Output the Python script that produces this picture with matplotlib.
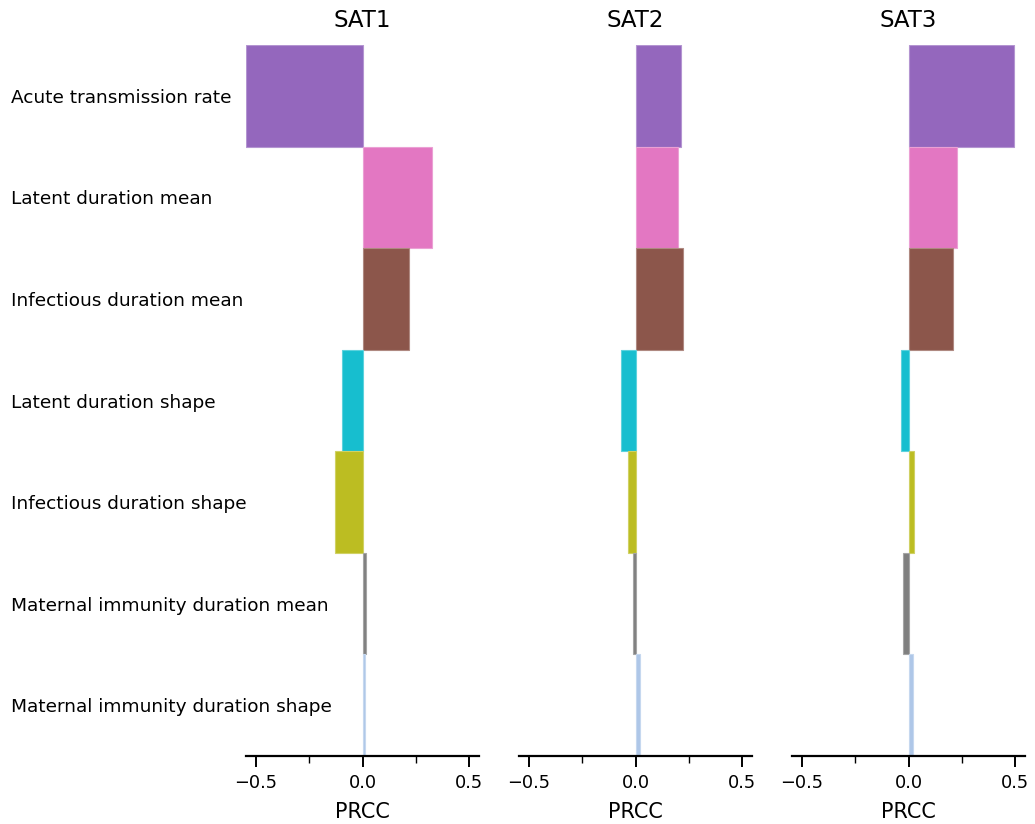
import matplotlib
matplotlib.use("Agg")
import matplotlib.pyplot as plt
from matplotlib.colors import to_rgb
from matplotlib.transforms import blended_transform_factory

parameters = [
    "Acute transmission rate",
    "Latent duration mean",
    "Infectious duration mean",
    "Latent duration shape",
    "Infectious duration shape",
    "Maternal immunity duration mean",
    "Maternal immunity duration shape",
]
colors = ["#9467bd", "#e377c2", "#8c564b", "#17becf", "#bcbd22", "#7f7f7f", "#aec7e8"]

serotypes = ["SAT1", "SAT2", "SAT3"]
prcc_sat1 = [-0.545, 0.327, 0.219, -0.096, -0.128, 0.017, 0.012]
prcc_sat2 = [0.212, 0.200, 0.224, -0.066, -0.037, -0.012, 0.020]
prcc_sat3 = [0.497, 0.228, 0.211, -0.037, 0.027, -0.024, 0.023]
prcc_all = [prcc_sat1, prcc_sat2, prcc_sat3]

# slightly lighter edges, like the antialiased borders in the original
edge_colors = [tuple(0.7 * c + 0.3 for c in to_rgb(col)) for col in colors]

fig = plt.figure(figsize=(10.35, 8.24), dpi=100)

lefts = [246 / 1035, 519 / 1035, 792 / 1035]
width = 233 / 1035
bottom = 68 / 824
height = 711 / 824

ypos = list(range(len(parameters)))
lim = 0.547

axes = []
for left, name, vals in zip(lefts, serotypes, prcc_all):
    ax = fig.add_axes([left, bottom, width, height])
    ax.barh(ypos, vals, height=1, color=colors, edgecolor=edge_colors, linewidth=0.8)
    ax.set_ylim(len(parameters) - 0.5, -0.5)
    ax.set_xlim(-lim, lim)
    ax.set_xticks([-0.5, 0.0, 0.5])
    ax.set_xticks([-0.25, 0.25], minor=True)
    ax.tick_params(axis="x", which="major", length=8, width=1.4, labelsize=12.75, pad=5)
    ax.tick_params(axis="x", which="minor", length=5, width=1.0)
    ax.set_yticks([])
    for s in ["left", "right", "top"]:
        ax.spines[s].set_visible(False)
    ax.spines["bottom"].set_linewidth(1.6)
    ax.set_xlabel("PRCC", fontsize=15, labelpad=7)
    ax.set_title(name, fontsize=16.5, pad=13)
    axes.append(ax)

# parameter labels on the far left
trans = blended_transform_factory(fig.transFigure, axes[0].transData)
for y, label in zip(ypos, parameters):
    axes[0].text(11 / 1035, y, label, transform=trans, ha="left",
                 va="center_baseline", fontsize=13.3)

fig.savefig("out.png", dpi=100)
